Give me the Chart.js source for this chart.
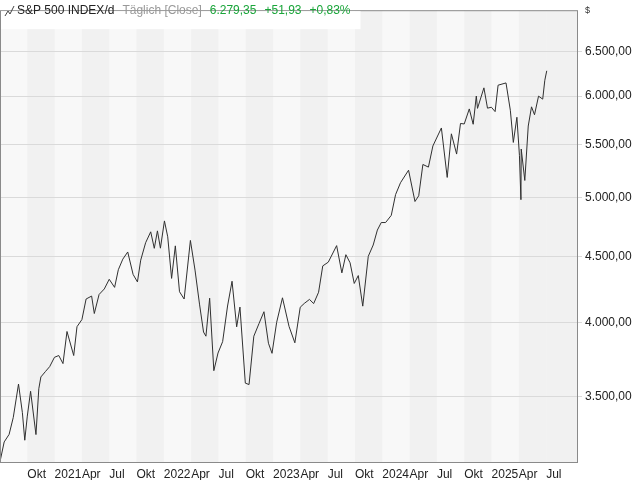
<!DOCTYPE html>
<html>
<head>
<meta charset="utf-8">
<script src="https://cdn.jsdelivr.net/npm/chart.js@4/dist/chart.umd.min.js"></script>
<style>
  body { margin: 0; background: #fff; }
  canvas { display: block; }
</style>
</head>
<body>
<canvas id="spx" width="640" height="480"></canvas>
<script>
// closes (roughly two per month)
const dates = [
  '2020-07-01','2020-07-15','2020-08-01','2020-08-15','2020-09-02','2020-09-15','2020-09-23','2020-10-01','2020-10-12','2020-10-30',
  '2020-11-09','2020-11-16','2020-12-01','2020-12-15','2020-12-31',
  '2021-01-15','2021-01-29','2021-02-12','2021-03-04','2021-03-15','2021-04-01','2021-04-15','2021-05-03','2021-05-12','2021-05-28',
  '2021-06-15','2021-07-01','2021-07-19','2021-08-01','2021-08-16','2021-09-02','2021-09-20','2021-10-04','2021-10-15','2021-11-01',
  '2021-11-18','2021-11-30','2021-12-10','2021-12-20','2022-01-03',
  '2022-01-14','2022-01-27','2022-02-09','2022-02-23','2022-03-08','2022-03-29','2022-04-14','2022-04-29','2022-05-12','2022-05-20',
  '2022-06-02','2022-06-16','2022-06-30','2022-07-15','2022-08-01','2022-08-16','2022-09-01','2022-09-12','2022-09-30','2022-10-12',
  '2022-10-28','2022-11-15','2022-12-01','2022-12-16','2022-12-28',
  '2023-01-13','2023-02-02','2023-02-24','2023-03-13','2023-03-31','2023-04-14','2023-05-01','2023-05-15','2023-06-01','2023-06-15',
  '2023-07-03','2023-07-31','2023-08-18','2023-09-01','2023-09-15','2023-09-29','2023-10-12','2023-10-27','2023-11-15','2023-12-01',
  '2023-12-15','2023-12-28',
  '2024-01-12','2024-01-31','2024-02-15','2024-03-01','2024-03-28','2024-04-19','2024-05-01','2024-05-15','2024-06-03','2024-06-18',
  '2024-07-16','2024-08-05','2024-08-19','2024-09-06','2024-09-19','2024-10-01','2024-10-18','2024-10-31','2024-11-11','2024-11-15',
  '2024-12-06','2024-12-18','2024-12-31',
  '2025-01-13','2025-01-23','2025-02-19','2025-03-03','2025-03-13','2025-03-25','2025-04-03','2025-04-08','2025-04-09','2025-04-21',
  '2025-05-02','2025-05-13','2025-05-23','2025-06-06','2025-06-20','2025-06-27','2025-07-03'
];
const closes = [
  3115,3227,3271,3372,3580,3401,3237,3380,3534,3270,
  3550,3626,3662,3694,3756,
  3768,3714,3934,3768,3968,4019,4170,4192,4063,4204,
  4246,4320,4258,4395,4479,4537,4358,4300,4471,4613,
  4704,4567,4712,4568,4797,
  4662,4327,4587,4225,4170,4632,4392,4132,3930,3901,
  4176,3667,3785,3863,4118,4305,3967,4110,3586,3577,
  3901,3991,4076,3852,3783,
  3999,4179,3970,3855,4109,4137,4167,4136,4221,4425,
  4455,4589,4370,4515,4450,4288,4349,4117,4502,4594,
  4719,4783,
  4783,4845,5029,5137,5254,4967,5018,5308,5283,5487,
  5667,5186,5608,5408,5713,5708,5864,5705,6001,5870,
  6090,5872,5882,
  5836,6119,6144,5850,5522,5777,5396,4983,5457,5158,
  5687,5886,5803,6000,5968,6173,6279
];
const yTicks = [3500, 4000, 4500, 5000, 5500, 6000, 6500];
// quarter ticks in months since Jul 2020
const xTickMonths = [3,6,9,12,15,18,21,24,27,30,33,36,39,42,45,48,51,54,57,60];
const xTickLabels = ['Okt','2021','Apr','Jul','Okt','2022','Apr','Jul','Okt','2023','Apr','Jul','Okt','2024','Apr','Jul','Okt','2025','Apr','Jul'];

function monthsFrom(d) {
  const [y, m, day] = d.split('-').map(Number);
  return (y - 2020) * 12 + (m - 7) + (day - 1) / 30.5;
}
function fmt(v) {
  const s = Math.round(v).toString().replace(/\B(?=(\d{3})+(?!\d))/g, '.');
  return s + ',00';
}

const points = dates.map((d, i) => ({ x: monthsFrom(d), y: closes[i] }));

const backdrop = {
  id: 'backdrop',
  beforeDraw(chart) {
    const { ctx, chartArea: a, scales: { x } } = chart;
    ctx.save();
    ctx.fillStyle = '#f8f8f8';
    ctx.fillRect(a.left, a.top, a.width, a.height);
    const bounds = [0].concat(xTickMonths, [x.max]);
    for (let i = 0; i < bounds.length - 1; i++) {
      if (i % 2 === 1 || i === bounds.length - 2) {
        const l = x.getPixelForValue(bounds[i]);
        const r = x.getPixelForValue(bounds[i + 1]);
        ctx.fillStyle = '#f1f1f1';
        ctx.fillRect(l, a.top, r - l, a.height);
      }
    }
    ctx.restore();
  },
  afterDraw(chart) {
    const { ctx, chartArea: a } = chart;
    ctx.save();
    ctx.strokeStyle = '#8a8a8a';
    ctx.lineWidth = 1;
    ctx.strokeRect(a.left + 0.5, a.top + 0.5, a.width - 1, a.height);
    // header label
    ctx.font = '12px "Liberation Sans"';
    ctx.textBaseline = 'middle';
    const parts = [
      ['S&P 500 INDEX/d', '#222'],
      ['Täglich [Close]', '#999'],
      ['6.279,35', '#1aa53a'],
      ['+51,93', '#1aa53a'],
      ['+0,83%', '#1aa53a']
    ];
    const widths = parts.map(p => ctx.measureText(p[0]).width);
    const total = 18 + widths.reduce((s, w) => s + w + 8, 0);
    ctx.fillStyle = '#fff';
    ctx.fillRect(a.left + 1, a.top + 1, total, 18);
    ctx.strokeStyle = '#444';
    ctx.beginPath();
    ctx.moveTo(5, 16); ctx.lineTo(8, 11); ctx.lineTo(10, 14); ctx.lineTo(14, 6);
    ctx.stroke();
    let x = 17;
    parts.forEach((p, i) => {
      ctx.fillStyle = p[1];
      ctx.fillText(p[0], x, 11);
      x += widths[i] + 8;
    });
    ctx.fillStyle = '#333';
    ctx.font = '9px "Liberation Sans"';
    ctx.fillText('$', 585, 11);
    ctx.restore();
  }
};

new Chart(document.getElementById('spx'), {
  type: 'line',
  data: {
    datasets: [{
      data: points,
      borderColor: '#303030',
      borderWidth: 1,
      pointRadius: 0,
      tension: 0
    }]
  },
  options: {
    responsive: false,
    animation: false,
    layout: { padding: { top: 2, left: 0 } },
    plugins: { legend: { display: false }, tooltip: { enabled: false } },
    scales: {
      x: {
        type: 'linear',
        min: 0,
        max: 63.5,
        afterBuildTicks: axis => { axis.ticks = xTickMonths.map(v => ({ value: v })); },
        afterFit: axis => { axis.height = 18; },
        grid: { display: false, drawTicks: true, tickLength: 4, color: '#8a8a8a' },
        border: { display: false },
        ticks: {
          align: 'start',
          padding: 1,
          maxRotation: 0,
          autoSkip: false,
          color: '#222',
          font: { family: 'Liberation Sans', size: 12 },
          callback: v => xTickLabels[xTickMonths.indexOf(v)]
        }
      },
      y: {
        type: 'logarithmic',
        position: 'right',
        min: 3113,
        max: 7000,
        afterBuildTicks: axis => { axis.ticks = yTicks.map(v => ({ value: v })); },
        afterFit: axis => { axis.width = 62; },
        grid: { color: '#dadada', tickLength: 4 },
        border: { display: false },
        ticks: {
          padding: 3,
          color: '#222',
          font: { family: 'Liberation Sans', size: 12 },
          callback: v => fmt(v)
        }
      }
    }
  },
  plugins: [backdrop]
});
</script>
</body>
</html>
